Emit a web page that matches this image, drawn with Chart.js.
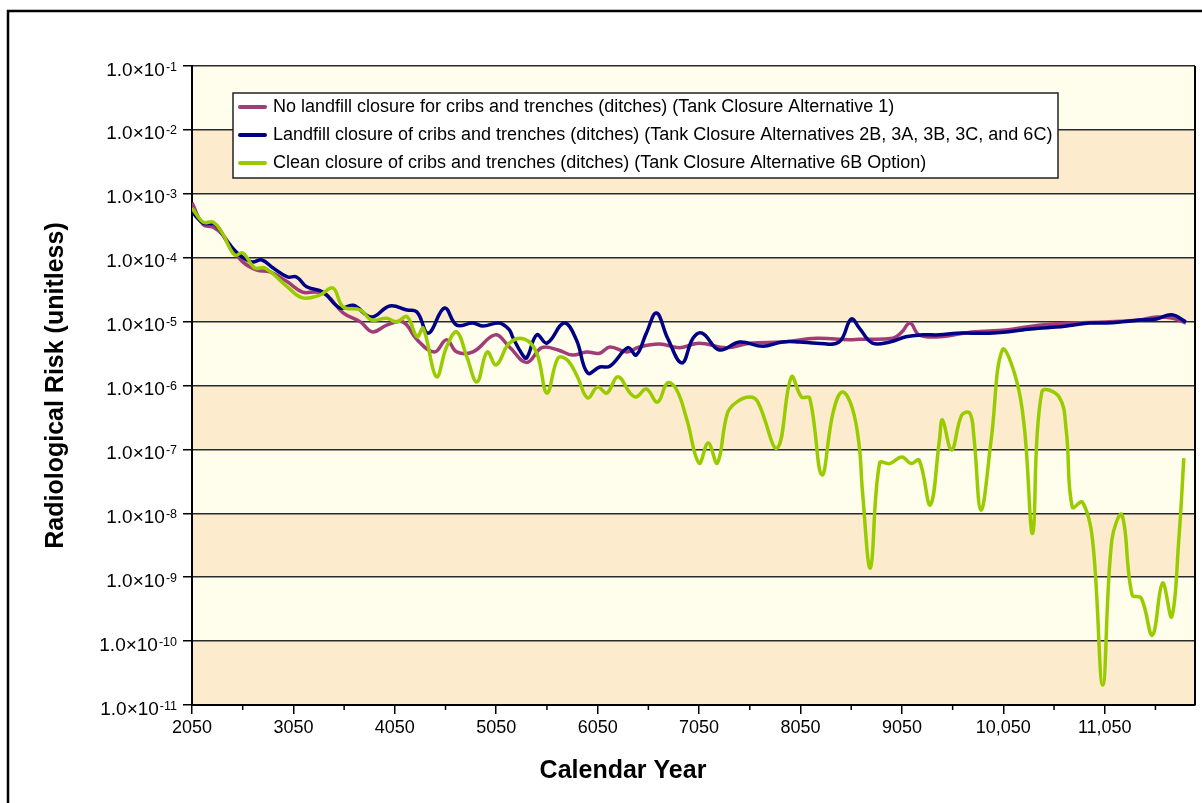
<!DOCTYPE html>
<html>
<head>
<meta charset="utf-8">
<style>
  html, body { margin: 0; padding: 0; background: #fff; }
  #wrap { width: 1202px; height: 803px; position: relative; }
</style>
</head>
<body>
<div id="wrap"><canvas id="riskChart"></canvas></div>
<script src="https://cdn.jsdelivr.net/npm/chart.js"></script>
<script>
// values (year, risk)
const noClosureYears = [2050, 2160, 2260, 2350, 2450, 2550, 2690, 2820, 2990, 3140, 3280, 3380, 3540, 3710, 3830, 3970,
  4130, 4270, 4440, 4560, 4660, 4820, 5040, 5180, 5350, 5500, 5660, 5800, 5940, 6070, 6170, 6340, 6460, 6660, 6860,
  7050, 7320, 7550, 7870, 8210, 8530, 8630, 8960, 9050, 9130, 9220, 9420, 9740, 10080, 10400, 10730, 11060, 11390,
  11560, 11710, 11850];
const noClosureRisk = [7.2e-4, 3.3e-4, 3.0e-4, 2.3e-4, 1.4e-4, 8.6e-5, 6.4e-5, 6.0e-5, 4.2e-5, 2.9e-5, 2.9e-5, 2.6e-5,
  1.37e-5, 9.9e-6, 6.9e-6, 8.8e-6, 9.9e-6, 5.2e-6, 3.35e-6, 5.2e-6, 3.35e-6, 3.35e-6, 6.2e-6, 4.0e-6, 2.3e-6, 3.9e-6,
  3.6e-6, 3.0e-6, 3.35e-6, 3.2e-6, 4.0e-6, 3.35e-6, 4.0e-6, 4.45e-6, 3.9e-6, 4.6e-6, 3.9e-6, 4.6e-6, 4.8e-6, 5.5e-6,
  5.2e-6, 5.3e-6, 5.5e-6, 6.9e-6, 9.5e-6, 6.2e-6, 5.8e-6, 6.9e-6, 7.4e-6, 8.8e-6, 9.5e-6, 9.9e-6, 1.06e-5, 1.18e-5,
  1.14e-5, 9.5e-6];

const landfillYears = [2050, 2160, 2280, 2400, 2520, 2640, 2740, 2850, 2990, 3080, 3180, 3340, 3510, 3640, 3820, 4000,
  4170, 4270, 4380, 4540, 4660, 4820, 4920, 5080, 5180, 5210, 5310, 5350, 5450, 5550, 5720, 5840, 5950, 6070, 6170,
  6350, 6430, 6530, 6630, 6740, 6880, 6990, 7080, 7250, 7450, 7680, 7870, 8040, 8210, 8430, 8550, 8630, 8760, 8930,
  9090, 9250, 9420, 9590, 9740, 9910, 10080, 10240, 10400, 10570, 10730, 10900, 11060, 11220, 11390, 11560, 11710,
  11850];
const landfillRisk = [5.2e-4, 3.5e-4, 3.3e-4, 1.76e-4, 1.1e-4, 8.6e-5, 9.2e-5, 6.9e-5, 5.0e-5, 5.0e-5, 3.5e-5, 2.9e-5,
  1.63e-5, 1.8e-5, 1.18e-5, 1.76e-5, 1.52e-5, 1.4e-5, 6.6e-6, 1.63e-5, 8.8e-6, 9.5e-6, 8.5e-6, 9.5e-6, 7.4e-6, 5.8e-6,
  3.0e-6, 2.7e-6, 6.2e-6, 4.6e-6, 9.5e-6, 5.2e-6, 1.57e-6, 1.95e-6, 2.0e-6, 3.9e-6, 3.0e-6, 6.6e-6, 1.36e-5, 5.5e-6,
  2.25e-6, 5.5e-6, 6.6e-6, 3.6e-6, 4.8e-6, 4.1e-6, 4.8e-6, 4.8e-6, 4.6e-6, 4.8e-6, 1.1e-5, 7.9e-6, 4.6e-6, 4.8e-6,
  5.8e-6, 6.2e-6, 6.2e-6, 6.6e-6, 6.6e-6, 6.6e-6, 6.9e-6, 7.4e-6, 7.9e-6, 8.2e-6, 8.8e-6, 9.5e-6, 9.5e-6, 9.9e-6,
  1.06e-5, 1.1e-5, 1.28e-5, 9.9e-6];

const cleanYears = [2050, 2160, 2260, 2350, 2470, 2550, 2670, 2770, 2990, 3140, 3310, 3440, 3540, 3710, 3820, 3970,
  4070, 4170, 4270, 4330, 4460, 4560, 4660, 4760, 4860, 4960, 5050, 5180, 5330, 5450, 5550, 5660, 5750, 5850, 5950,
  6050, 6140, 6250, 6370, 6430, 6530, 6640, 6740, 6830, 6930, 7050, 7140, 7230, 7330, 7420, 7550, 7630, 7820, 7960,
  8060, 8140, 8260, 8370, 8460, 8560, 8630, 8660, 8740, 8830, 8930, 9050, 9140, 9220, 9330, 9420, 9450, 9540, 9640,
  9720, 9760, 9830, 9930, 10040, 10180, 10260, 10340, 10430, 10600, 10670, 10730, 10830, 10930, 11030, 11120, 11220,
  11320, 11410, 11520, 11620, 11710, 11780, 11830];
const cleanRisk = [6.0e-4, 3.6e-4, 3.6e-4, 2.4e-4, 1.1e-4, 1.19e-4, 6.9e-5, 6.9e-5, 3.5e-5, 2.35e-5, 2.6e-5, 3.35e-5,
  1.7e-5, 1.52e-5, 1.06e-5, 1.13e-5, 9.9e-6, 1.2e-5, 5.8e-6, 7.9e-6, 1.37e-6, 4.0e-6, 6.9e-6, 2.8e-6, 1.14e-6, 3.35e-6,
  2.1e-6, 4.6e-6, 5.3e-6, 3.2e-6, 7.6e-7, 2.7e-6, 2.5e-6, 1.37e-6, 6.4e-7, 9.5e-7, 7.6e-7, 1.37e-6, 7.6e-7, 6.6e-7,
  8.8e-7, 5.5e-7, 1.1e-6, 8.5e-7, 2.9e-7, 6.1e-8, 1.26e-7, 6.1e-8, 3.7e-7, 5.5e-7, 6.6e-7, 5.5e-7, 1.05e-7, 1.36e-6,
  6.6e-7, 6.4e-7, 4.0e-8, 3.7e-7, 7.9e-7, 4.45e-7, 1.1e-7, 2.3e-8, 1.4e-9, 6.1e-8, 6.0e-8, 7.6e-8, 6.0e-8, 6.8e-8,
  1.35e-8, 1.4e-7, 2.9e-7, 9.8e-8, 3.45e-7, 3.7e-7, 1.56e-7, 1.12e-8, 1.4e-7, 3.6e-6, 1.2e-6, 2.0e-7, 4.9e-9, 7.9e-7,
  6.6e-7, 2.0e-7, 1.25e-8, 1.49e-8, 3.8e-9, 2.05e-11, 3.8e-9, 9.4e-9, 5.3e-10, 4.7e-10, 1.24e-10, 8.1e-10, 2.4e-10,
  3.8e-9, 7.3e-8];

const seriesLabels = [
  'No landfill closure for cribs and trenches (ditches) (Tank Closure Alternative 1)',
  'Landfill closure of cribs and trenches (ditches) (Tank Closure Alternatives 2B, 3A, 3B, 3C, and 6C)',
  'Clean closure of cribs and trenches (ditches) (Tank Closure Alternative 6B Option)'
];

const yTickValues = [1e-1, 1e-2, 1e-3, 1e-4, 1e-5, 1e-6, 1e-7, 1e-8, 1e-9, 1e-10, 1e-11];
const yTickBase = '1.0×10';
const yTickExponents = ['-1', '-2', '-3', '-4', '-5', '-6', '-7', '-8', '-9', '-10', '-11'];
const xMajorTicks = [2050, 3050, 4050, 5050, 6050, 7050, 8050, 9050, 10050, 11050];
const xTickLabels = ['2050', '3050', '4050', '5050', '6050', '7050', '8050', '9050', '10,050', '11,050'];
const xMinorTicks = [2550, 3550, 4550, 5550, 6550, 7550, 8550, 9550, 10550, 11550];
const xMin = 2050, xMax = 11940;

const fam = '"Liberation Sans", Arial, Helvetica, sans-serif';
Chart.defaults.font.family = fam;
Chart.defaults.color = '#000';

const pts = (xs, ys) => xs.map((x, i) => ({ x: x, y: ys[i] }));

// alternating cream / tan stripes between decades
const bands = {
  id: 'bands',
  beforeDraw(chart) {
    const { ctx, chartArea: a, scales: { y } } = chart;
    ctx.save();
    for (let i = 0; i < yTickValues.length - 1; i++) {
      const top = y.getPixelForValue(yTickValues[i]);
      const bottom = y.getPixelForValue(yTickValues[i + 1]);
      ctx.fillStyle = i % 2 === 0 ? '#FFFDEC' : '#FDEBCD';
      ctx.fillRect(a.left, top, a.right - a.left, bottom - top);
    }
    ctx.restore();
  }
};

const overlay = {
  id: 'overlay',
  afterDraw(chart) {
    const { ctx, chartArea: a, scales: { x, y } } = chart;
    ctx.save();
    ctx.strokeStyle = '#000';
    ctx.lineWidth = 2;
    ctx.beginPath();
    ctx.moveTo(a.right, a.top);
    ctx.lineTo(a.right, a.bottom);
    ctx.stroke();

    // short ticks halfway between labelled years
    ctx.lineWidth = 1.5;
    xMinorTicks.forEach(v => {
      const px = x.getPixelForValue(v);
      ctx.beginPath();
      ctx.moveTo(px, a.bottom);
      ctx.lineTo(px, a.bottom + 5);
      ctx.stroke();
    });

    // y tick labels with raised exponent
    ctx.fillStyle = '#000';
    ctx.textAlign = 'right';
    ctx.textBaseline = 'alphabetic';
    const right = y.right - 15;
    yTickValues.forEach((v, i) => {
      const py = y.getPixelForValue(v);
      ctx.font = '12.5px ' + fam;
      const ew = ctx.measureText(yTickExponents[i]).width;
      ctx.fillText(yTickExponents[i], right, py + 4.5);
      ctx.font = '19px ' + fam;
      ctx.fillText(yTickBase, right - ew - 1, py + 9.5);
    });
    ctx.textAlign = 'left';

    // legend box
    const lx = a.left + 41, ly = a.top + 27, lw = 825, lh = 85;
    ctx.fillStyle = '#fff';
    ctx.fillRect(lx, ly, lw, lh);
    ctx.strokeStyle = '#222';
    ctx.lineWidth = 1.5;
    ctx.strokeRect(lx, ly, lw, lh);
    ctx.font = '18px ' + fam;
    ctx.textBaseline = 'middle';
    chart.data.datasets.forEach((ds, i) => {
      const ry = ly + 14 + i * 28;
      ctx.strokeStyle = ds.borderColor;
      ctx.lineWidth = 4;
      ctx.lineCap = 'round';
      ctx.beginPath();
      ctx.moveTo(lx + 7, ry);
      ctx.lineTo(lx + 32, ry);
      ctx.stroke();
      ctx.fillStyle = '#000';
      ctx.fillText(ds.label, lx + 40, ry);
    });

    // outer frame
    ctx.strokeStyle = '#000';
    ctx.lineWidth = 2.5;
    ctx.lineCap = 'butt';
    ctx.beginPath();
    ctx.moveTo(8, chart.height);
    ctx.lineTo(8, 11);
    ctx.lineTo(chart.width, 11);
    ctx.stroke();
    ctx.restore();
  }
};

const ctx = document.getElementById('riskChart').getContext('2d');
new Chart(ctx, {
  type: 'line',
  data: {
    datasets: [
      { label: seriesLabels[0], data: pts(noClosureYears, noClosureRisk), borderColor: '#A03C78', order: 2 },
      { label: seriesLabels[1], data: pts(landfillYears, landfillRisk), borderColor: '#000085', order: 1 },
      { label: seriesLabels[2], data: pts(cleanYears, cleanRisk), borderColor: '#99CC00', order: 0 }
    ]
  },
  options: {
    responsive: true,
    maintainAspectRatio: false,
    animation: false,
    elements: {
      line: { borderWidth: 3.5, tension: 0.4, fill: false },
      point: { radius: 0, hoverRadius: 0 }
    },
    layout: { padding: { left: 51, right: 7, top: 66, bottom: 0 } },
    plugins: {
      legend: { display: false },
      tooltip: { enabled: false },
      title: {
        display: true,
        text: 'Calendar Year',
        position: 'bottom',
        color: '#000',
        font: { size: 25, weight: 'bold' },
        padding: { top: 0, bottom: 17 }
      }
    },
    scales: {
      x: {
        type: 'linear',
        min: xMin,
        max: xMax,
        afterBuildTicks: s => { s.ticks = xMajorTicks.map(v => ({ value: v })); },
        afterFit: s => { s.height = 51; },
        grid: { drawOnChartArea: false, color: '#000', tickLength: 9, lineWidth: 1.5 },
        border: { color: '#000', width: 2 },
        ticks: {
          autoSkip: false,
          maxRotation: 0,
          padding: 3,
          font: { size: 18 },
          callback: (v, i) => xTickLabels[i]
        }
      },
      y: {
        type: 'logarithmic',
        min: 1e-11,
        max: 1e-1,
        afterBuildTicks: s => { s.ticks = yTickValues.map(v => ({ value: v })); },
        afterFit: s => { s.width = 141; },
        grid: { color: '#2b2b2b', lineWidth: 1.5, tickLength: 9, tickColor: '#000' },
        border: { color: '#000', width: 2 },
        ticks: { display: false, autoSkip: false },
        title: {
          display: true,
          text: 'Radiological Risk (unitless)',
          color: '#000',
          font: { size: 25, weight: 'bold' },
          padding: { top: -10, bottom: 0 }
        }
      }
    }
  },
  plugins: [bands, overlay]
});
</script>
</body>
</html>
